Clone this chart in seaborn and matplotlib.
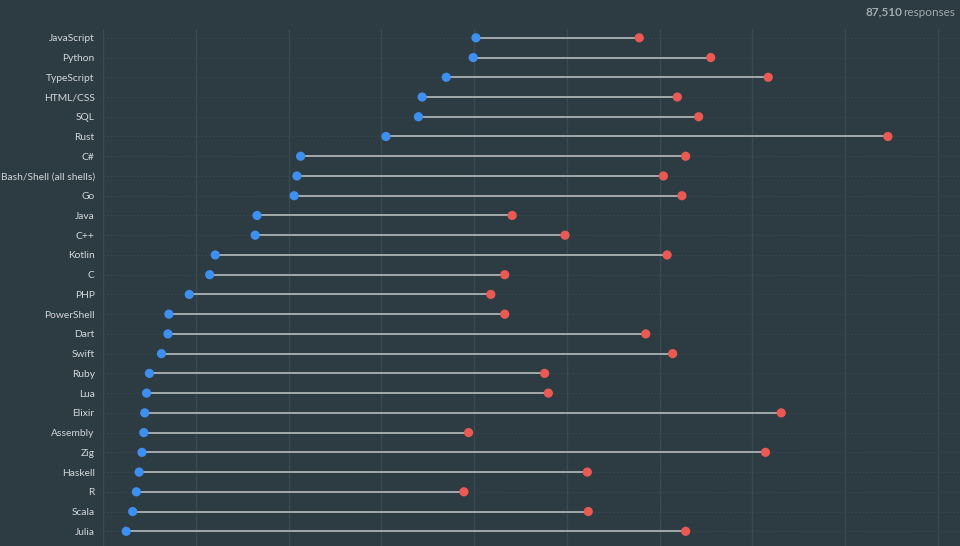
import matplotlib
matplotlib.use("Agg")
import matplotlib.pyplot as plt
import seaborn as sns
import pandas as pd
import numpy as np

languages = ["JavaScript", "Python", "TypeScript", "HTML/CSS", "SQL", "Rust", "C#",
             "Bash/Shell (all shells)", "Go", "Java", "C++", "Kotlin", "C", "PHP",
             "PowerShell", "Dart", "Swift", "Ruby", "Lua", "Elixir", "Assembly", "Zig",
             "Haskell", "R", "Scala", "Julia", "Clojure"]
desired = [40.2, 39.9, 37.0, 34.4, 34.0, 30.5, 21.3, 20.9, 20.6, 16.6, 16.4, 12.1, 11.5,
           9.3, 7.1, 7.0, 6.3, 5.0, 4.7, 4.5, 4.4, 4.2, 3.9, 3.6, 3.2, 2.5, 2.2]
admired = [57.8, 65.5, 71.7, 61.9, 64.2, 84.6, 62.8, 60.4, 62.4, 44.1, 49.8, 60.8, 43.3,
           41.8, 43.3, 58.5, 61.4, 47.6, 48.0, 73.1, 39.4, 71.4, 52.2, 38.9, 52.3, 62.8, 68.5]
responses_count = "87,510"

BG = "#2d3b43"
BLUE = "#3d8ff0"
RED = "#ea5a52"
LINE = "#a3a9ad"
GRID = "#3b4a52"
TEXT = "#d3d8db"

df = pd.DataFrame({"language": languages, "desired": desired, "admired": admired})
df["row"] = np.arange(len(df))

sns.set_theme(style="dark")
plt.rcParams["font.family"] = ["Lato", "DejaVu Sans"]

W, H = 960, 546
fig = plt.figure(figsize=(W / 100, H / 100), dpi=100, facecolor=BG)
left_px, top_px, bottom_px = 103, 29, 580
ax = fig.add_axes([left_px / W, (H - bottom_px) / H, (W - left_px) / W, (bottom_px - top_px) / H])
ax.set_facecolor(BG)

px_per_unit = 9.278
row_h = 19.74
row0 = 37.8
ax.set_xlim(0, (W - left_px) / px_per_unit)
ax.set_ylim((bottom_px - row0) / row_h, -(row0 - top_px) / row_h)

# vertical grid
for gx in range(0, 100, 10):
    ax.axvline(gx, color=GRID, lw=1, zorder=0)
# dotted row lines
for r in df["row"]:
    ax.axhline(r, color="#3a4951", lw=0.8, ls=(0, (1.2, 2.2)), zorder=0.5)

ax.hlines(df["row"], df["desired"], df["admired"], color=LINE, lw=1.4, zorder=2)
sns.scatterplot(data=df, x="desired", y="row", color=BLUE, s=44, edgecolor="none", ax=ax, zorder=3)
sns.scatterplot(data=df, x="admired", y="row", color=RED, s=44, edgecolor="none", ax=ax, zorder=3)

ax.set_yticks(df["row"])
ax.set_yticklabels(df["language"], color=TEXT, fontsize=7.4)
ax.tick_params(axis="y", length=0, pad=6)
ax.set_xticks([])
ax.set_xlabel("")
ax.set_ylabel("")
for s in ax.spines.values():
    s.set_visible(False)
ax.grid(False)

fig.text(902 / W, 1 - 12 / H, responses_count, color="#a2abb0", fontsize=8.5, fontweight="bold",
         ha="right", va="center")
fig.text(955 / W, 1 - 12 / H, "responses", color="#a2abb0", fontsize=8.5, ha="right", va="center")

fig.savefig("out.png", dpi=100, facecolor=BG)
